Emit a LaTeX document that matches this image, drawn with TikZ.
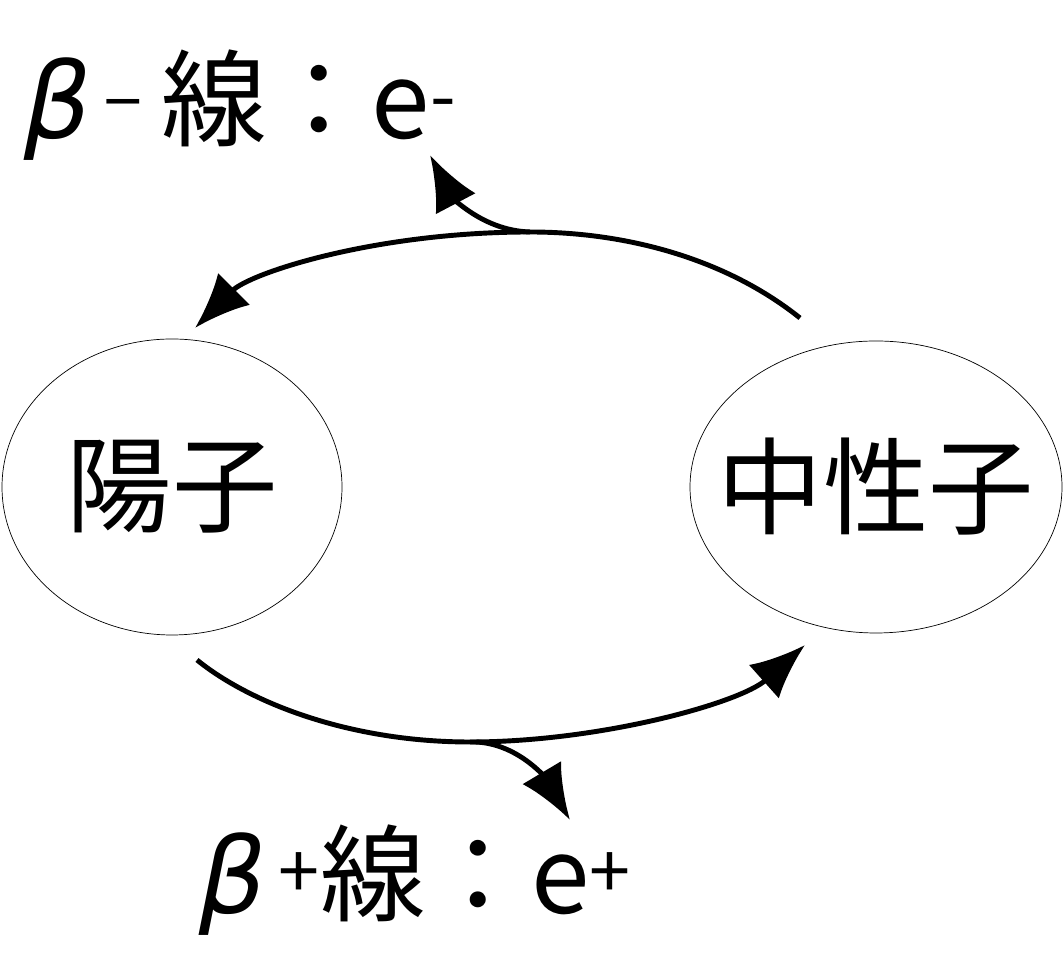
\documentclass[tikz,border=0pt]{standalone}
\usepackage{fontspec}
\setmainfont{Noto Sans CJK JP}
\newfontfamily\greekfont{DejaVu Sans}[FakeSlant=0.2]
\usetikzlibrary{arrows.meta, positioning, shapes.geometric}

\begin{document}
\begin{tikzpicture}[
        particle/.style={ellipse, draw=black, thin, inner sep=-1.2cm, font=\fontsize{60}{64}\selectfont},
        label/.style={font=\fontsize{60}{64}\selectfont},
        arrow/.style={-{Latex[length=1.1cm, width=0.9cm]}, line width=2.8pt}
    ]
        \useasboundingbox (0,0) rectangle (21.28,19.06);
        % Nodes
        \node[particle, minimum width=6.8cm, minimum height=5.92cm] (proton) at (3.44,9.32) {陽子};
        \node[particle, minimum width=7.44cm, minimum height=5.84cm] (neutron) at (17.52,9.32) {中性子};
        \node[label] (betaminus) at (4.75,16.95) {{\greekfont β}\,\textsuperscript{–}\,線：e\textsuperscript{-}};
        \node[label] (betaplus) at (8.25,1.45) {{\greekfont β}\,\textsuperscript{+}線：e\textsuperscript{+}};
        \coordinate (topstart) at (16.0,12.7);
        \coordinate (topmid) at (10.6,14.42);
        \coordinate (topend) at (3.9,12.5);
        \coordinate (toptip) at (8.6,15.96);
        \coordinate (botstart) at (3.94,5.86);
        \coordinate (botmid) at (9.4,4.22);
        \coordinate (botend) at (16.1,6.16);
        \coordinate (bottip) at (11.4,2.66);

        % Arrows
        \draw[arrow] (topstart) .. controls (14.5,13.9) and (12.5,14.42) .. (topmid)
            .. controls (7.5,14.42) and (5,13.6) .. (topend);
        \draw[arrow] (topmid) .. controls (9.6,14.45) and (9.0,15.2) .. (toptip);
        \draw[arrow] (botstart) .. controls (5,5) and (7,4.22) .. (botmid)
            .. controls (12,4.22) and (14.8,5) .. (botend);
        \draw[arrow] (botmid) .. controls (10.3,4.25) and (10.9,3.5) .. (bottip);
    \end{tikzpicture}
\end{document}
